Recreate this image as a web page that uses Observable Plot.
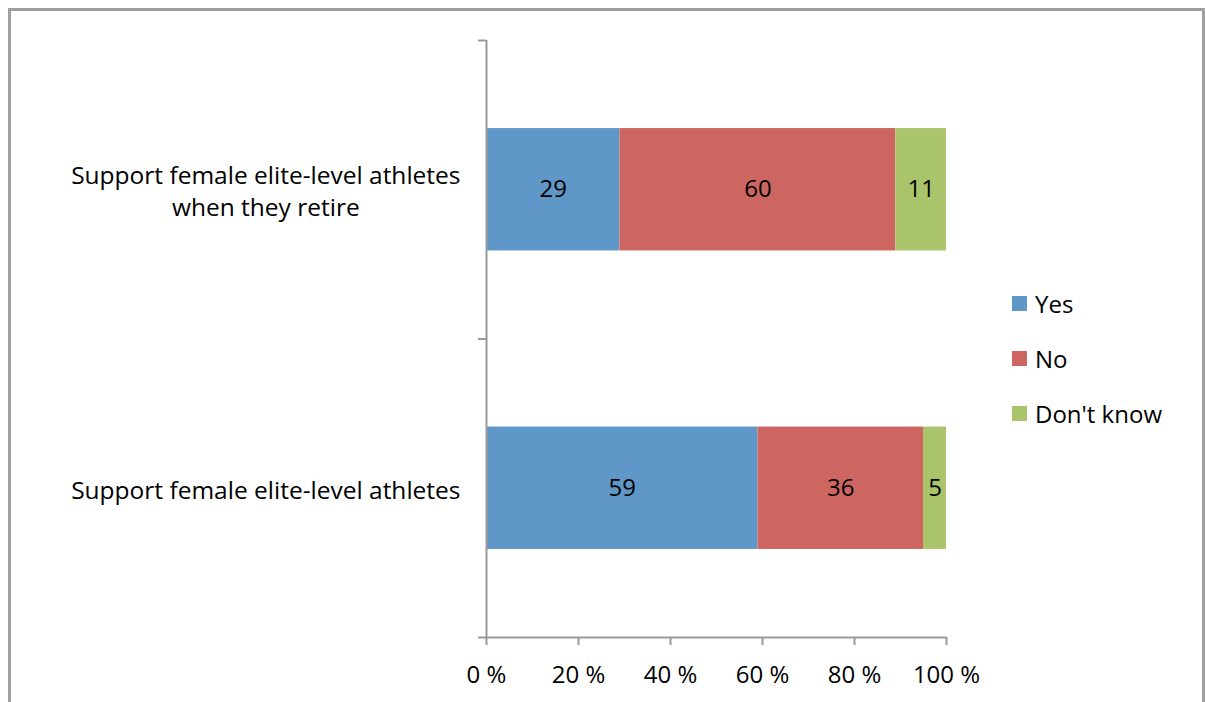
<!DOCTYPE html>
<html>
<head>
<meta charset="utf-8">
<script src="https://cdn.jsdelivr.net/npm/d3@7"></script>
<script src="https://cdn.jsdelivr.net/npm/@observablehq/plot@0.6"></script>
<style>
  html, body { margin: 0; padding: 0; background: #fff; overflow: hidden; }
  body { width: 1205px; height: 702px; position: relative; font-family: "Open Sans", sans-serif; }
  #frame { position: absolute; left: 8px; top: 8px; width: 1197px; height: 720px; border: 3px solid #a0a0a0; box-sizing: border-box; }
  #chart { position: absolute; left: 0; top: 0; }
  #legend { position: absolute; left: 1012px; top: 289px; font-size: 24px; color: #000; }
  .item { display: flex; align-items: center; height: 28px; margin-bottom: 27px; }
  .sw { width: 15px; height: 15px; margin-right: 8px; }
</style>
</head>
<body>
<div id="frame"></div>
<div id="chart"></div>
<div id="legend"></div>
<script>
const categories = ["Support female elite-level athletes\nwhen they retire", "Support female elite-level athletes"];
const answers = ["Yes", "No", "Don't know"];
const yesValues = [29, 59];
const noValues = [60, 36];
const dontKnowValues = [11, 5];
const xTicks = [0, 20, 40, 60, 80, 100];
const colors = ["#6097c9", "#cd6661", "#aac46c"];

const series = [yesValues, noValues, dontKnowValues];
const rows = [];
categories.forEach((c, i) => {
  let acc = 0;
  answers.forEach((a, j) => {
    const v = series[j][i];
    rows.push({cat: i, answer: a, value: v, x1: acc, x2: acc + v});
    acc += v;
  });
});

const W = 1205, H = 702;
const FS = 24;
const plot = Plot.plot({
  width: W,
  height: H,
  marginLeft: 486,
  marginRight: 259,
  marginTop: 40,
  marginBottom: 65,
  style: {fontFamily: "'Open Sans', sans-serif", fontSize: FS + "px", color: "#000", background: "transparent"},
  x: {domain: [0, 100]},
  y: {domain: [0, 2], reverse: true},
  color: {domain: answers, range: colors},
  marks: [
    Plot.rect(rows, {x1: "x1", x2: "x2", y1: d => d.cat + 0.295, y2: d => d.cat + 0.705, fill: "answer"}),
    Plot.text(rows, {x: d => (d.x1 + d.x2) / 2, y: d => d.cat + 0.5, text: d => String(d.value), fill: "#000", fontSize: FS}),
    Plot.ruleX([0], {stroke: "#999", strokeWidth: 2}),
    Plot.ruleY([2], {stroke: "#999", strokeWidth: 2}),
    Plot.axisY({ticks: [0, 1, 2], tickSize: 8, tickFormat: () => "", stroke: "#999", strokeWidth: 2, label: null}),
    Plot.axisX({ticks: xTicks, tickSize: 8, tickPadding: 20, tickFormat: d => d + " %", stroke: "#999", strokeWidth: 2, fill: "#000", fontSize: FS, label: null}),
    Plot.text(categories, {x: 0, y: (d, i) => i + 0.5, text: d => d, dx: -26, textAnchor: "end", lineHeight: 1.31, fill: "#000", fontSize: 24.5})
  ]
});
document.getElementById("chart").appendChild(plot);

// center lines of multi-line category labels relative to each other
plot.querySelectorAll("text").forEach(t => {
  const spans = t.querySelectorAll("tspan");
  if (spans.length > 1) {
    let maxW = 0;
    spans.forEach(s => { maxW = Math.max(maxW, s.getComputedTextLength()); });
    t.setAttribute("text-anchor", "middle");
    const tr = t.getAttribute("transform") || "";
    t.setAttribute("transform", tr + ` translate(${-maxW / 2},0)`);
  }
});

const legend = document.getElementById("legend");
answers.forEach((a, j) => {
  const it = document.createElement("div");
  it.className = "item";
  const sw = document.createElement("div");
  sw.className = "sw";
  sw.style.background = colors[j];
  const tx = document.createElement("span");
  tx.textContent = a;
  it.appendChild(sw);
  it.appendChild(tx);
  legend.appendChild(it);
});
</script>
</body>
</html>
